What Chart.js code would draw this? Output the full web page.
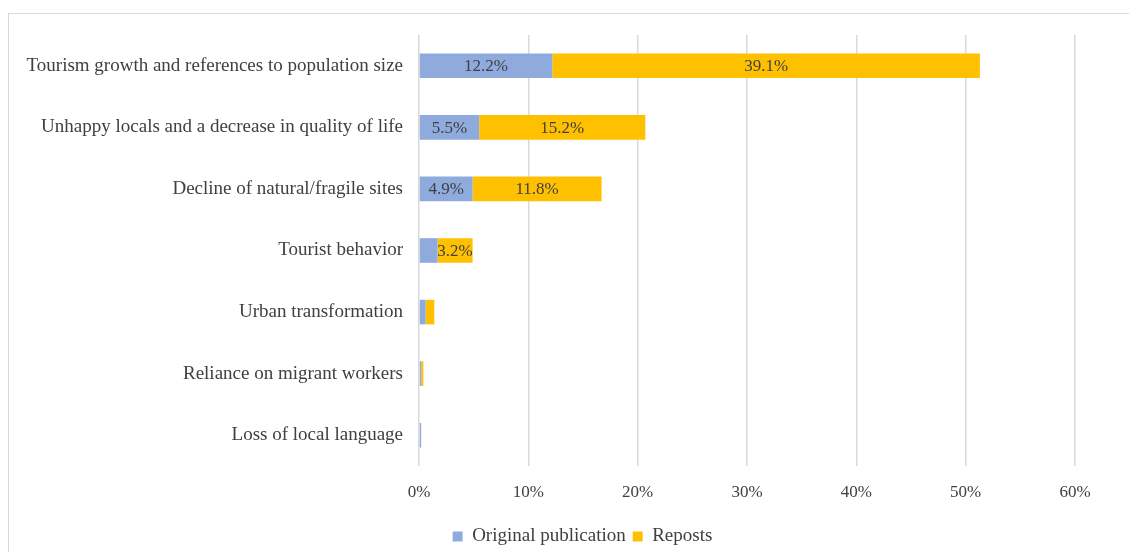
<!DOCTYPE html>
<html>
<head>
<meta charset="utf-8">
<script src="https://cdn.jsdelivr.net/npm/chart.js@4/dist/chart.umd.min.js"></script>
<style>
  html, body { margin: 0; padding: 0; background: #fff; overflow: hidden; }
  #wrap { position: relative; width: 1129px; height: 552px; }
  #frame { position: absolute; left: 8px; top: 13px; width: 1200px; height: 700px; border: 1px solid #d9d9d9; box-sizing: border-box; }
  canvas { position: absolute; left: 0; top: 0; }
</style>
</head>
<body>
<div id="wrap">
  <div id="frame"></div>
  <canvas id="chart" width="1129" height="552"></canvas>
</div>
<script>
// categories (top to bottom)
const categories = [
    'Tourism growth and references to population size',
    'Unhappy locals and a decrease in quality of life',
    'Decline of natural/fragile sites',
    'Tourist behavior',
    'Urban transformation',
    'Reliance on migrant workers',
    'Loss of local language'
];
// shares in percent
const originalValues = [12.2, 5.5, 4.9, 1.7, 0.6, 0.2, 0.2];
const repostValues = [39.1, 15.2, 11.8, 3.2, 0.8, 0.2, 0];
const seriesNames = ['Original publication', 'Reposts'];
const xTicks = [0, 10, 20, 30, 40, 50, 60];

const FONT = '"Liberation Serif", "Times New Roman", serif';
const TEXT = '#404040';

// labels inside the segments (only the bigger ones are labelled)
const segmentLabels = {
    id: 'segmentLabels',
    afterDatasetsDraw(chart) {
        const ctx = chart.ctx;
        ctx.save();
        ctx.font = '17px ' + FONT;
        ctx.fillStyle = TEXT;
        ctx.textAlign = 'center';
        ctx.textBaseline = 'middle';
        chart.data.datasets.forEach((ds, i) => {
            const meta = chart.getDatasetMeta(i);
            meta.data.forEach((bar, j) => {
                const v = ds.data[j];
                if (v < 3) return;
                const cx = (bar.x + bar.base) / 2;
                ctx.fillText(v.toFixed(1) + '%', cx, bar.y + 1);
            });
        });
        ctx.restore();
    }
};

// nudge the legend so it sits where the original one is
const legendShift = {
    id: 'legendShift',
    afterLayout(chart) {
        const lg = chart.legend;
        lg.left += 90;
        lg.top += 4;
        lg.bottom += 4;
    }
};

const ctx = document.getElementById('chart').getContext('2d');
new Chart(ctx, {
    type: 'bar',
    data: {
        labels: categories,
        datasets: [{
            label: seriesNames[0],
            data: originalValues,
            backgroundColor: '#8FAADC',
            barPercentage: 0.4,
            categoryPercentage: 1
        }, {
            label: seriesNames[1],
            data: repostValues,
            backgroundColor: '#FFC000',
            barPercentage: 0.4,
            categoryPercentage: 1
        }]
    },
    options: {
        indexAxis: 'y',
        responsive: false,
        animation: false,
        layout: { padding: { left: 0, right: 54, top: 35, bottom: 0 } },
        plugins: {
            legend: {
                position: 'bottom',
                labels: {
                    font: { family: FONT, size: 19 },
                    color: TEXT,
                    boxWidth: 10,
                    boxHeight: 10,
                    padding: 7
                }
            },
            tooltip: { enabled: false }
        },
        scales: {
            x: {
                stacked: true,
                min: 0,
                max: 60,
                afterBuildTicks: (scale) => {
                    scale.ticks = xTicks.map(v => ({ value: v }));
                },
                afterFit: (scale) => { scale.height = 50; },
                grid: { color: '#d9d9d9', lineWidth: 1.5, drawTicks: false },
                border: { display: false },
                ticks: {
                    font: { family: FONT, size: 17 },
                    color: TEXT,
                    padding: 16,
                    callback: (v) => v + '%'
                }
            },
            y: {
                stacked: true,
                grid: { display: false },
                border: { display: false },
                afterFit: (scale) => { scale.width = 419; },
                ticks: {
                    font: { family: FONT, size: 19 },
                    color: TEXT,
                    padding: 8
                }
            }
        }
    },
    plugins: [segmentLabels, legendShift]
});
</script>
</body>
</html>
